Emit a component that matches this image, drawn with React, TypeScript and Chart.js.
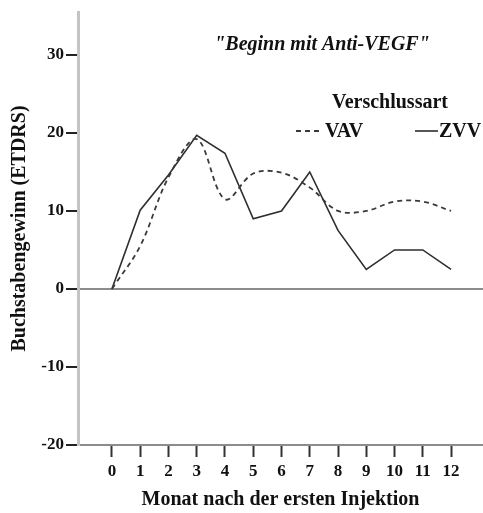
import React, { useEffect, useRef } from "react";
import { Chart, registerables } from "chart.js";

Chart.register(...registerables);

const months = [0, 1, 2, 3, 4, 5, 6, 7, 8, 9, 10, 11, 12];
const vavValues = [0, 5.5, 14.3, 19.2, 11.5, 14.8, 14.9, 13.0, 10.0, 10.0, 11.2, 11.2, 10.0];
const zvvValues = [0, 10.1, 14.6, 19.7, 17.4, 9.0, 10.0, 15.0, 7.5, 2.5, 5.0, 5.0, 2.5];
const yTicks = [-20, -10, 0, 10, 20, 30];
const seriesLabels = ["VAV", "ZVV"];
const chartTitle = '"Beginn mit Anti-VEGF"';
const legendTitle = "Verschlussart";
const xTitle = "Monat nach der ersten Injektion";
const yTitle = "Buchstabengewinn (ETDRS)";

const FONT = '"Liberation Serif", "Times New Roman", serif';

const overlayPlugin = {
  id: "overlay",
  afterDraw(chart: any) {
    const ctx = chart.ctx;
    ctx.save();
    ctx.fillStyle = "#111";
    ctx.textBaseline = "middle";
    ctx.font = `italic bold 20px ${FONT}`;
    ctx.textAlign = "center";
    ctx.fillText(chartTitle, 322, 45);

    ctx.font = `bold 20px ${FONT}`;
    ctx.fillText(legendTitle, 390, 103);

    const ds = chart.data.datasets;
    const items = [
      { x1: 296, x2: 322, tx: 325 },
      { x1: 415, x2: 438, tx: 439 },
    ];
    ds.forEach((d: any, i: number) => {
      const it = items[i];
      ctx.strokeStyle = d.borderColor;
      ctx.lineWidth = d.borderWidth;
      ctx.setLineDash(d.borderDash || []);
      ctx.beginPath();
      ctx.moveTo(it.x1, 131);
      ctx.lineTo(it.x2, 131);
      ctx.stroke();
      ctx.setLineDash([]);
      ctx.textAlign = "left";
      ctx.fillText(d.label, it.tx, 132);
    });
    ctx.restore();
  },
};

export default function App() {
  const ref = useRef<HTMLCanvasElement>(null);

  useEffect(() => {
    if (!ref.current) return;
    const chart = new Chart(ref.current, {
      type: "line",
      data: {
        datasets: [
          {
            label: seriesLabels[0],
            data: months.map((m, i) => ({ x: m, y: vavValues[i] })),
            borderColor: "#3a3a3a",
            borderWidth: 1.8,
            borderDash: [5, 4],
            tension: 0.35,
            pointRadius: 0,
            fill: false,
          },
          {
            label: seriesLabels[1],
            data: months.map((m, i) => ({ x: m, y: zvvValues[i] })),
            borderColor: "#2e2e2e",
            borderWidth: 1.6,
            tension: 0,
            pointRadius: 0,
            fill: false,
          },
        ],
      },
      options: {
        responsive: false,
        animation: false,
        events: [],
        layout: { padding: { top: 12, right: 0, left: 0, bottom: 0 } },
        plugins: {
          legend: { display: false },
          tooltip: { enabled: false },
          title: { display: false },
        },
        scales: {
          x: {
            type: "linear",
            min: -1.2,
            max: 13.13,
            afterBuildTicks: (scale: any) => {
              scale.ticks = months.map((v) => ({ value: v }));
            },
            afterFit: (scale: any) => {
              scale.height = 68;
              scale.paddingLeft = 0;
              scale.paddingRight = 0;
            },
            border: { display: true, color: "#8c8c8c", width: 2 },
            grid: {
              drawOnChartArea: false,
              drawTicks: true,
              tickLength: 12,
              tickColor: "#333",
              tickWidth: 2,
            },
            ticks: {
              padding: 4,
              color: "#111",
              font: { family: FONT, size: 17, weight: "bold" },
              maxRotation: 0,
              autoSkip: false,
              callback: (v: any) => String(v),
            },
            title: {
              display: true,
              text: xTitle,
              color: "#111",
              font: { family: FONT, size: 20, weight: "bold" },
              padding: { top: 0, bottom: 1 },
            },
          },
          y: {
            type: "linear",
            min: -20,
            max: 35.5,
            afterBuildTicks: (scale: any) => {
              scale.ticks = yTicks.map((v) => ({ value: v }));
            },
            afterFit: (scale: any) => {
              scale.width = 78;
              scale.paddingTop = 0;
              scale.paddingBottom = 0;
            },
            border: { display: true, color: "#c4c4c4", width: 3 },
            grid: {
              drawOnChartArea: true,
              drawTicks: true,
              tickLength: 12,
              lineWidth: 2,
              color: (c: any) => (c.tick && c.tick.value === 0 ? "#8c8c8c" : "rgba(0,0,0,0)"),
              tickColor: "#222",
              tickWidth: 2,
            },
            ticks: {
              padding: 2,
              color: "#111",
              font: { family: FONT, size: 17, weight: "bold" },
              callback: (v: any) => String(v),
            },
            title: {
              display: true,
              text: yTitle,
              color: "#111",
              font: { family: FONT, size: 20, weight: "bold" },
              padding: { top: 8, bottom: 0 },
            },
          },
        },
      },
      plugins: [overlayPlugin],
    } as any);
    return () => chart.destroy();
  }, []);

  return (
    <div style={{ position: "fixed", left: 0, top: 0, width: 483, height: 513, background: "#fff" }}>
      <canvas ref={ref} width={483} height={513} />
    </div>
  );
}
